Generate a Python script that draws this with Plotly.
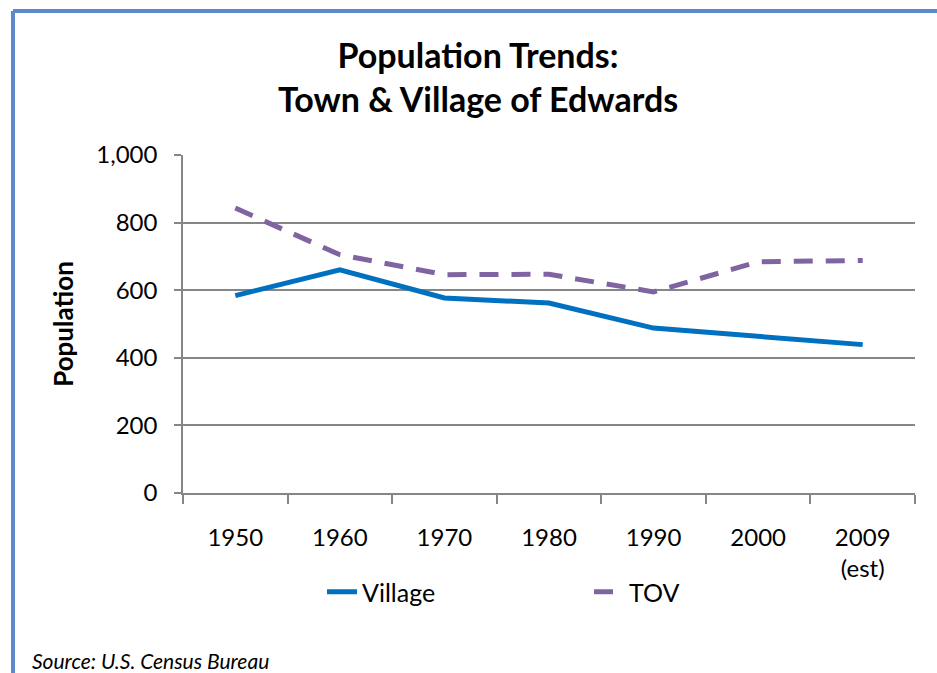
import plotly.graph_objects as go

categories = ["1950", "1960", "1970", "1980", "1990", "2000", "2009<br>(est)"]
village = [584, 660, 577, 562, 488, 465, 439]
tov = [843, 705, 646, 647, 595, 684, 688]
y_ticks = [0, 200, 400, 600, 800, 1000]
y_tick_labels = ["0", "200", "400", "600", "800", "1,000"]

FONT = "Lato"
L, R, T, B = 183, 22, 155, 180
W, H = 937, 673
pw = W - L - R
ph = H - T - B

def px_x(px):
    return (px - L) / pw

def px_y(py):
    return (H - B - py) / ph

fig = go.Figure()
fig.add_trace(go.Scatter(x=categories, y=village, mode="lines", name="Village",
                         line=dict(color="#0070C0", width=5)))
fig.add_trace(go.Scatter(x=categories, y=tov, mode="lines", name="TOV",
                         line=dict(color="#8064A2", width=5, dash="19px,13px")))

fig.update_layout(
    width=W, height=H,
    margin=dict(l=L, r=R, t=T, b=B, autoexpand=False),
    paper_bgcolor="white", plot_bgcolor="white",
    font=dict(family=FONT, size=24, color="black"),
    title=dict(text="<b>Population Trends:<br>Town & Village of Edwards</b>",
               x=px_x(478), xref="paper", xanchor="center",
               y=1 - 68 / H, yanchor="top",
               font=dict(family=FONT, size=34, color="black")),
    showlegend=True,
    legend=dict(orientation="h", x=px_x(322), xanchor="left",
                y=px_y(592), yanchor="middle", entrywidth=222,
                font=dict(family=FONT, size=25, color="black"),
                bgcolor="rgba(0,0,0,0)"),
    xaxis=dict(type="category", range=[-0.5, 6.5], showgrid=False, showline=True,
               linecolor="#868686", linewidth=1.5, ticks="outside",
               tickson="boundaries", ticklen=9, automargin=False,
               tickcolor="#868686", tickwidth=1.5, ticklabelstandoff=22,
               tickfont=dict(family=FONT, size=24, color="black")),
    yaxis=dict(range=[0, 1000], tickvals=y_ticks, ticktext=y_tick_labels,
               showgrid=True, gridcolor="#868686", gridwidth=1.5,
               showline=True, linecolor="#868686", linewidth=1.5,
               ticks="outside", ticklen=7, tickcolor="#868686", tickwidth=1.5,
               zeroline=False, automargin=False, ticklabelstandoff=12,
               tickfont=dict(family=FONT, size=24, color="black"),
               title=dict(text="<b>Population</b>", standoff=15,
                          font=dict(family=FONT, size=26, color="black"))),
)

# outer frame (blue border along top and left)
fig.add_shape(type="line", xref="paper", yref="paper",
              x0=px_x(13), x1=px_x(960), y0=px_y(11), y1=px_y(11),
              line=dict(color="#5B8BC9", width=4))
fig.add_shape(type="line", xref="paper", yref="paper",
              x0=px_x(13), x1=px_x(13), y0=px_y(11), y1=px_y(700),
              line=dict(color="#5B8BC9", width=4))

fig.add_annotation(text="<i>Source: U.S. Census Bureau</i>", xref="paper", yref="paper",
                   x=px_x(30), y=px_y(660), xanchor="left", yanchor="middle",
                   showarrow=False, font=dict(family=FONT, size=21, color="black"))

fig.write_html("out.html", config={"displayModeBar": False},
               post_script="document.body.style.margin='0';")
